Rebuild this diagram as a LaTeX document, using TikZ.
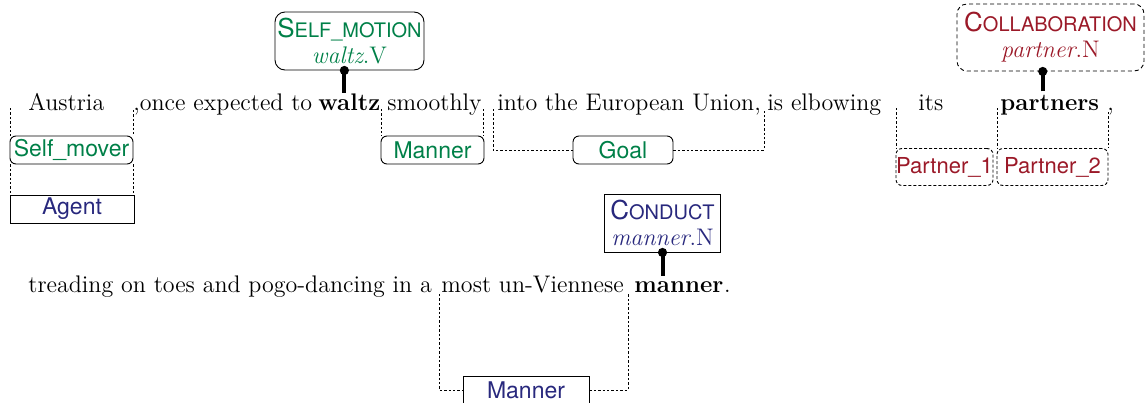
\documentclass[tikz,border=0pt]{standalone}
\usepackage{fontspec}
\newfontfamily\labelfont{TeX Gyre Heros}
\usetikzlibrary{arrows.meta,calc}
\definecolor{fgreen}{RGB}{0,128,72}
\definecolor{fred}{RGB}{155,25,40}
\definecolor{fblue}{RGB}{40,40,125}
\newcommand{\fname}[2]{{\labelfont\fontsize{13}{13}\selectfont #1}{\labelfont\fontsize{10}{12}\selectfont #2}}
\begin{document}
\begin{tikzpicture}[x=0.5pt,y=-0.5pt,
 word/.style={anchor=base west, inner sep=0pt, font=\fontsize{12}{14}\selectfont},
 bword/.style={anchor=base west, inner sep=0pt, font=\fontsize{12}{14}\selectfont\bfseries},
 span/.style={draw=black, line width=0.45pt, dash pattern=on 1.2pt off 1pt},
 lab/.style={inner sep=0pt, font=\labelfont\fontsize{11.5}{13}\selectfont, minimum height=14pt, line width=0.45pt},
 rlab/.style={lab, draw, rounded corners=3pt},
 slab/.style={lab, draw},
 dlab/.style={lab, draw, rounded corners=3pt, dash pattern=on 1.5pt off 1pt, font=\labelfont\fontsize{11}{13}\selectfont},
 frame/.style={inner sep=0pt, align=center, draw, line width=0.45pt, font=\fontsize{12}{13}\selectfont},
 lu/.style={line width=2pt},
 ]
\useasboundingbox (0,0) rectangle (1145,402);

% sentence, line 1
\node[word] (austria) at (28,110) {Austria};
\node[word] (once) at (133,110) {,once expected to};
\node[bword] (waltz) at (318,110) {waltz};
\node[word] (smoothly) at (387,110) {smoothly};
\node[word] (into) at (497,110) {into the European Union,};
\node[word] (elbow) at (767,110) {is elbowing};
\node[word] (its) at (918,110) {its};
\node[bword] (partners) at (1000,110) {partners};
\node[word] (comma) at (1107,110) {,};

% sentence, line 2
\node[word] (treading) at (28,292) {treading on toes and};
\node[word] (pogo) at (248,292) {pogo-dancing in a};
\node[word] (most) at (441,292) {most un-Viennese};
\node[bword] (manner) at (634,292) {manner};
\node[word] (period) at (manner.base east) {.};

% frames
\node[frame, rounded corners=5pt, minimum width=74.5pt, minimum height=29pt, text=fgreen] (selfmotion) at (349.5,41) {\fname{S}{ELF\_MOTION}\\\textit{waltz}.V};
\node[frame, rounded corners=5pt, dash pattern=on 2pt off 1.5pt, minimum width=93.5pt, minimum height=33.5pt, text=fred] (collab) at (1050.5,37.5) {\fname{C}{OLLABORATION}\\\textit{partner}.N};
\node[frame, minimum width=58pt, minimum height=29pt, text=fblue] (conduct) at (662.5,223) {\fname{C}{ONDUCT}\\\textit{manner}.N};

% lexical unit anchors on the words
\coordinate (wl) at ($(waltz.north)+(-5,0)$);
\coordinate (pl) at ($(partners.north)+(-7,-3)$);
\coordinate (ml) at ($(conduct.south |- manner.north)+(0,-5)$);

% lexical unit connectors
\draw[lu] (wl) -- (wl |- selfmotion.south);
\fill (wl |- selfmotion.south) circle (2.3pt);
\draw[lu] (pl) -- (pl |- collab.south);
\fill (pl |- collab.south) circle (2.3pt);
\draw[lu] (ml) -- (conduct.south);
\fill (conduct.south) circle (2.3pt);

% frame element labels
\node[rlab, minimum width=61.5pt, text=fgreen] (selfmover) at (71.5,150) {Self\_mover};
\node[slab, minimum width=62pt, text=fblue] (agent) at (72,209) {Agent};
\node[rlab, minimum width=51.5pt, text=fgreen] (mannerg) at (432.5,150) {Manner};
\node[rlab, minimum width=50pt, text=fgreen] (goal) at (623,150) {Goal};
\node[dlab, minimum width=48.5pt, minimum height=18.5pt, text=fred] (pone) at (944.5,167) {Partner\_1};
\node[dlab, minimum width=55.5pt, minimum height=18.5pt, text=fred] (ptwo) at (1052.5,167) {Partner\_2};
\node[slab, minimum width=63pt, text=fblue] (mannerb) at (526,390) {Manner};

% span markers
\coordinate (a1) at (10,108);
\coordinate (a2) at (133,110);
\coordinate (m1) at (381,109);
\coordinate (m2) at (483,109);
\coordinate (g1) at (493,109);
\coordinate (g2) at (764,110);
\coordinate (p1) at (896,108);
\coordinate (p2) at (997,108);
\coordinate (p3) at (1108,112);
\coordinate (n1) at (439,294);
\coordinate (n2) at (628,294);

\draw[span] (a1) -- (a1 |- selfmover.north);
\draw[span] (a2) -- (a2 |- selfmover.north);
\draw[span] (a1 |- selfmover.south) -- (a1 |- agent.north);
\draw[span] (a2 |- selfmover.south) -- (a2 |- agent.north);
\draw[span] (m1) -- (m1 |- mannerg.north);
\draw[span] (m2) -- (m2 |- mannerg.north);
\draw[span] (g1) |- (goal.west);
\draw[span] (goal.east) -| (g2);
\draw[span] (p1) -- (p1 |- pone.north);
\draw[span] (p2) -- (p2 |- pone.north);
\draw[span] (p3) -- (p3 |- ptwo.north);
\draw[span] (n1) |- (mannerb.west);
\draw[span] (mannerb.east) -| (n2);
\end{tikzpicture}
\end{document}
